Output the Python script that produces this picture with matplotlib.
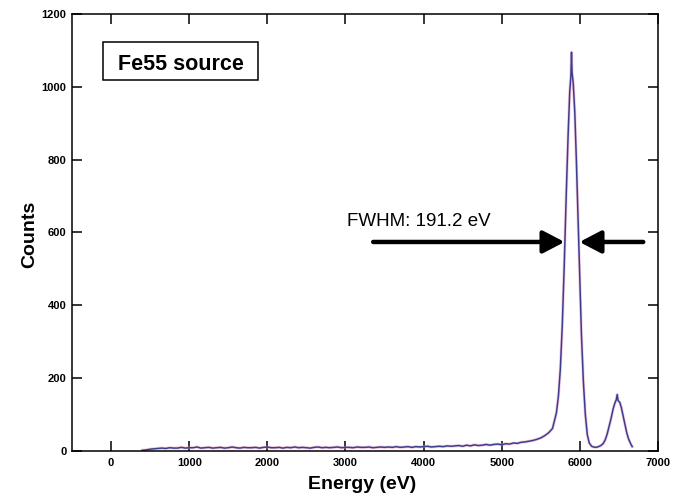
import matplotlib
matplotlib.use("Agg")
import matplotlib.pyplot as plt
from matplotlib.patches import Rectangle

plt.rcParams['font.family'] = ['Liberation Sans', 'DejaVu Sans']

# ---- data ----
baseline_energy = list(range(400, 5500, 50))
baseline_counts = [
    2, 3, 5, 6, 7, 8, 7, 9, 8, 8,
    10, 8, 9, 9, 11, 8, 9, 10, 8, 9,
    10, 8, 9, 11, 9, 8, 10, 9, 9, 10,
    8, 10, 11, 9, 9, 10, 8, 10, 9, 11,
    9, 10, 9, 8, 10, 11, 9, 10, 9, 10,
    11, 9, 10, 10, 9, 11, 10, 10, 11, 9,
    10, 11, 10, 11, 10, 12, 10, 11, 12, 10,
    12, 11, 12, 13, 11, 12, 13, 12, 14, 13,
    14, 15, 13, 16, 14, 17, 15, 16, 18, 16,
    18, 19, 17, 20, 19, 22, 21, 24, 25, 27,
    29, 32,
]
peak_energy = [5500, 5550, 5600, 5650, 5700, 5725, 5750, 5775, 5800, 5825,
               5850, 5870, 5885, 5893, 5900, 5915, 5935, 5955, 5975, 5995,
               6020, 6045, 6070, 6095, 6120, 6150, 6175, 6200, 6225, 6250,
               6275, 6300, 6325, 6350, 6375, 6400, 6425, 6450, 6465, 6478,
               6490, 6510, 6530, 6550, 6575, 6600, 6625, 6650, 6670]
peak_counts = [36, 42, 50, 62, 105, 150, 225, 345, 510, 700,
               870, 985, 1030, 1095, 1040, 1010, 930, 800, 650, 490,
               320, 190, 100, 45, 22, 13, 11, 10, 11, 13,
               16, 21, 31, 47, 69, 90, 115, 133, 140, 155,
               138, 134, 120, 100, 74, 50, 32, 20, 12]

x_ticks = [0, 1000, 2000, 3000, 4000, 5000, 6000, 7000]
y_ticks = [0, 200, 400, 600, 800, 1000, 1200]

fwhm_label = "FWHM: 191.2 eV"
fwhm_left = 5804
fwhm_right = 5995
fwhm_level = 574
source_label = "Fe55 source"

energy = baseline_energy + peak_energy
counts = baseline_counts + peak_counts

# ---- figure ----
W, H = 683, 494
fig = plt.figure(figsize=(W / 100, H / 100), dpi=100)
ax = fig.add_axes([72 / W, 1 - 451 / H, (658 - 72) / W, (451 - 14) / H])

ax.plot(energy, counts, color='#e8a0c0', lw=2.2, alpha=0.5)
ax.plot(energy, counts, color='#3d3d8f', lw=1.1)

ax.set_xlim(-500, 7000)
ax.set_ylim(0, 1200)
ax.set_xticks(x_ticks)
ax.set_yticks(y_ticks)
ax.tick_params(direction='in', length=7, width=1.1, top=True, right=True,
               labelsize=8, pad=5)
ax.tick_params(axis='y', pad=4)
for lab in ax.get_xticklabels() + ax.get_yticklabels():
    lab.set_fontweight('bold')
for sp in ax.spines.values():
    sp.set_linewidth(1.1)

fig.text(30 / W, 1 - 234 / H, "Counts", rotation=90, fontsize=14,
         fontweight='bold', ha='center', va='center')
fig.text(362 / W, 1 - 484 / H, "Energy (eV)", fontsize=14,
         fontweight='bold', ha='center', va='center')

# source box
ax.add_patch(Rectangle((103 / W, 1 - 80 / H), (258 - 103) / W, (80 - 42) / H,
                       transform=fig.transFigure, fill=False, lw=1.1,
                       edgecolor='black'))
fig.text(181 / W, 1 - 70 / H, source_label, fontsize=15.5, fontweight='bold',
         ha='center', va='baseline')

# FWHM annotation
ax.text(3023, 618, fwhm_label, fontsize=13.5, ha='left', va='baseline')
arrow_style = dict(arrowstyle='-|>,head_length=1.3,head_width=0.68',
                   lw=3.2, color='black', shrinkA=0, shrinkB=0,
                   capstyle='round')
ax.annotate('', xy=(fwhm_left, fwhm_level), xytext=(3355, fwhm_level),
            arrowprops=arrow_style)
ax.annotate('', xy=(fwhm_right, fwhm_level), xytext=(6811, fwhm_level),
            arrowprops=arrow_style)

fig.savefig("out.png", dpi=100)
